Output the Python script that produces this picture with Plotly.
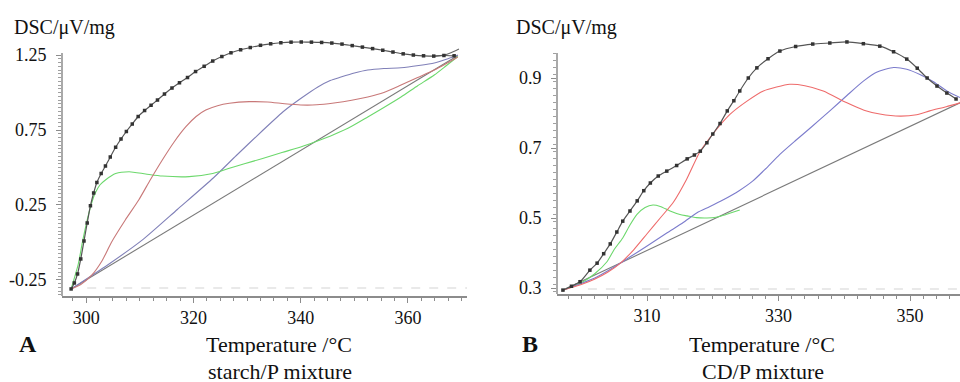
import plotly.graph_objects as go

# ---------------- Panel A: starch/P mixture ----------------
a_data_T = [297.2, 297.8, 298.4, 299.0, 299.6, 300.2, 300.8, 301.4, 302.0, 302.8, 303.6, 304.5,
            305.5, 306.5, 307.5, 308.6, 309.7, 310.9, 312.1, 313.3, 314.6, 316.0, 317.4, 318.9,
            320.4, 322.0, 323.6, 325.3, 327.0, 328.8, 330.6, 332.5, 334.4, 336.3, 338.2, 340.1,
            342.0, 343.9, 345.8, 347.7, 349.6, 351.5, 353.4, 355.3, 357.2, 359.1, 361.0, 362.9,
            364.8, 366.7, 368.6]
a_data_y = [-0.31, -0.27, -0.21, -0.11, 0.01, 0.13, 0.245, 0.33, 0.40, 0.46, 0.51, 0.57,
            0.635, 0.69, 0.74, 0.79, 0.84, 0.88, 0.915, 0.95, 0.99, 1.03, 1.065, 1.10,
            1.14, 1.175, 1.21, 1.24, 1.265, 1.285, 1.30, 1.315, 1.325, 1.332, 1.336, 1.337,
            1.336, 1.334, 1.33, 1.323, 1.313, 1.303, 1.293, 1.282, 1.27, 1.258, 1.25, 1.245,
            1.243, 1.247, 1.245]

a_fit_T = [364.8, 366.7, 368.0, 369.5]
a_fit_y = [1.243, 1.25, 1.265, 1.29]

a_red_T = [297.2, 299.0, 301.0, 303.0, 304.7, 307.3, 309.8, 312.0, 314.2, 316.4, 318.6, 320.5,
           322.3, 324.5, 326.7, 330.4, 333.8, 337.0, 340.0, 343.0, 346.2, 349.5, 352.5, 355.5,
           358.7, 361.8, 364.9, 367.0, 369.3]
a_red_y = [-0.31, -0.28, -0.22, -0.12, 0.0, 0.15, 0.283, 0.42, 0.55, 0.67, 0.772, 0.84,
           0.883, 0.912, 0.928, 0.939, 0.937, 0.925, 0.917, 0.918, 0.93, 0.948, 0.97, 1.0,
           1.05, 1.10, 1.15, 1.19, 1.237]

a_green_T = [297.2, 298.5, 299.3, 300.2, 301.0, 301.7, 302.6, 303.6, 305.5, 308.0, 311.1, 314.2,
             319.2, 323.6, 326.7, 329.5, 332.9, 336.5, 340.0, 343.0, 346.2, 349.5, 352.5, 355.5,
             358.7, 361.8, 364.9, 367.0, 369.3]
a_green_y = [-0.31, -0.15, 0.0, 0.15, 0.26, 0.33, 0.385, 0.417, 0.46, 0.472, 0.457, 0.443,
             0.439, 0.46, 0.495, 0.525, 0.56, 0.60, 0.637, 0.675, 0.72, 0.775, 0.837, 0.90,
             0.97, 1.045, 1.117, 1.175, 1.24]

a_blue_T = [297.2, 304.0, 310.5, 317.0, 323.7, 328.0, 333.0, 337.0, 340.0, 343.2, 345.5, 347.5,
            350.0, 352.5, 355.5, 358.7, 362.0, 364.9, 367.0, 369.3]
a_blue_y = [-0.31, -0.15, 0.017, 0.22, 0.43, 0.58, 0.75, 0.88, 0.96, 1.037, 1.08, 1.103,
            1.13, 1.15, 1.16, 1.165, 1.18, 1.197, 1.22, 1.25]

a_base_T = [297.2, 369.3]
a_base_y = [-0.31, 1.247]

a_resid_T = [300.2, 371.0]
a_resid_y = [-0.303, -0.303]

# ---------------- Panel B: CD/P mixture ----------------
b_data_T = [297.2, 298.5, 299.8, 301.3, 302.4, 303.4, 304.4, 305.4, 306.3, 307.4, 308.5, 309.5,
            310.5, 311.7, 313.0, 314.5, 316.1, 317.2, 318.1, 319.1, 320.0, 321.1, 322.2, 323.2,
            324.1, 325.4, 326.7, 328.4, 330.2, 332.6, 335.2, 337.8, 340.4, 342.9, 345.4, 347.5,
            349.5, 351.1, 352.6, 354.1, 355.6, 357.0]
b_data_y = [0.294, 0.305, 0.318, 0.351, 0.371, 0.398, 0.426, 0.46, 0.491, 0.52, 0.549, 0.578,
            0.60, 0.62, 0.634, 0.65, 0.669, 0.68, 0.691, 0.715, 0.74, 0.77, 0.806, 0.835,
            0.863, 0.90, 0.929, 0.955, 0.977, 0.99, 0.997, 1.0, 1.003, 0.998, 0.991, 0.975,
            0.954, 0.928, 0.90, 0.877, 0.857, 0.84]

b_red_T = [297.2, 300.0, 302.0, 304.0, 306.0, 308.0, 310.0, 312.0, 314.0, 316.0, 318.0, 320.0,
           322.6, 325.2, 327.7, 331.7, 334.0, 336.8, 340.4, 343.0, 345.4, 348.5, 351.0, 353.0,
           355.5, 357.6]
b_red_y = [0.294, 0.31, 0.325, 0.345, 0.372, 0.41, 0.455, 0.50, 0.545, 0.61, 0.688, 0.74,
           0.796, 0.834, 0.863, 0.882, 0.878, 0.863, 0.829, 0.808, 0.797, 0.791, 0.795, 0.806,
           0.818, 0.829]

b_blue_T = [297.2, 300.0, 302.5, 305.0, 307.5, 310.0, 313.0, 315.5, 317.6, 319.5, 321.6, 324.0,
            326.1, 328.0, 330.2, 332.5, 335.0, 337.8, 340.4, 342.9, 345.0, 347.5, 349.5, 351.5,
            353.5, 355.6, 357.6]
b_blue_y = [0.294, 0.313, 0.333, 0.36, 0.39, 0.42, 0.457, 0.487, 0.515, 0.532, 0.552, 0.578,
            0.606, 0.64, 0.682, 0.72, 0.76, 0.806, 0.85, 0.891, 0.917, 0.93, 0.925, 0.91,
            0.89, 0.863, 0.844]

b_green_T = [297.2, 300.0, 302.0, 303.9, 305.0, 306.3, 307.4, 308.5, 309.7, 310.9, 312.0, 313.5,
             315.0, 316.1, 317.5, 319.1, 320.5, 321.5, 322.8, 324.1]
b_green_y = [0.294, 0.315, 0.34, 0.375, 0.41, 0.443, 0.48, 0.511, 0.53, 0.537, 0.533, 0.52,
             0.51, 0.506, 0.501, 0.50, 0.502, 0.507, 0.515, 0.523]

b_base_T = [297.2, 357.6]
b_base_y = [0.294, 0.829]

b_resid_T = [301.0, 357.6]
b_resid_y = [0.297, 0.297]

# ---------------- tick labels ----------------
a_xticks = [300, 320, 340, 360]
a_yticks = [-0.25, 0.25, 0.75, 1.25]
a_yticktext = ["-0.25", "0.25", "0.75", "1.25"]
b_xticks = [310, 330, 350]
b_yticks = [0.3, 0.5, 0.7, 0.9]
b_yticktext = ["0.3", "0.5", "0.7", "0.9"]

FONT = "Liberation Serif"
GREEN = "#6cd86c"
GRAY = "#7a7a7a"
AXC = "#8c8c8c"

# axis extents (visible axis lines)
A_XR = [295.5, 371.0]
A_YAXIS = [-0.357, 1.263]
A_YR = [-0.357, 1.377]
B_XR = [296.3, 357.6]
B_YAXIS = [0.2829, 0.9714]
B_YR = [0.2829, 1.0200]

fig = go.Figure()


def add_line(x, y, color, xa, ya, width=1.1, dash=None, shape="spline"):
    fig.add_trace(go.Scatter(x=x, y=y, mode="lines", xaxis=xa, yaxis=ya,
                             line=dict(color=color, width=width, dash=dash, shape=shape,
                                       smoothing=0.6),
                             hoverinfo="skip", showlegend=False))


# Panel A
add_line(a_resid_T, a_resid_y, "#e2e2e2", "x", "y", width=1.5, dash="dash", shape="linear")
add_line(a_base_T, a_base_y, GRAY, "x", "y", shape="linear")
add_line(a_blue_T, a_blue_y, "#8080b8", "x", "y")
add_line(a_green_T, a_green_y, GREEN, "x", "y")
add_line(a_red_T, a_red_y, "#c87878", "x", "y")
add_line(a_fit_T, a_fit_y, "#666666", "x", "y")
fig.add_trace(go.Scatter(x=a_data_T, y=a_data_y, mode="lines+markers", xaxis="x", yaxis="y",
                         line=dict(color="#555555", width=1.2, shape="spline", smoothing=0.6),
                         marker=dict(color="#333333", size=3.5, symbol="square"),
                         hoverinfo="skip", showlegend=False))

# Panel B
add_line(b_resid_T, b_resid_y, "#e2e2e2", "x2", "y2", width=1.5, dash="dash", shape="linear")
add_line(b_base_T, b_base_y, GRAY, "x2", "y2", shape="linear")
add_line(b_green_T, b_green_y, GREEN, "x2", "y2")
add_line(b_blue_T, b_blue_y, "#7c7ccc", "x2", "y2")
add_line(b_red_T, b_red_y, "#ee6b6b", "x2", "y2")
fig.add_trace(go.Scatter(x=b_data_T, y=b_data_y, mode="lines+markers", xaxis="x2", yaxis="y2",
                         line=dict(color="#555555", width=1.2, shape="spline", smoothing=0.6),
                         marker=dict(color="#333333", size=3.5, symbol="square"),
                         hoverinfo="skip", showlegend=False))

W, H = 960, 382


def dom_x(a, b):
    return [a / W, b / W]


def dom_y(top, bottom):
    return [1 - bottom / H, 1 - top / H]


def steps(start, stop, step):
    out, i = [], 0
    while True:
        v = round(start + i * step, 4)
        if v > stop + 1e-9:
            break
        out.append(v)
        i += 1
    return out


a_yminor = steps(-0.35, 1.25, 0.025)
b_yminor = steps(0.29, 0.97, 0.02)

axis_common = dict(showgrid=False, zeroline=False, automargin=False, ticks="outside",
                   tickcolor=AXC, ticklen=5, tickwidth=1,
                   tickfont=dict(family=FONT, size=18, color="#111111"))

fig.update_layout(
    width=W, height=H, margin=dict(l=0, r=0, t=0, b=0, pad=0),
    paper_bgcolor="white", plot_bgcolor="white", showlegend=False,
    xaxis=dict(domain=dom_x(62, 467), range=A_XR, anchor="y",
               showline=True, linecolor=AXC, linewidth=1.5,
               tickmode="array", tickvals=a_xticks,
               minor=dict(dtick=2.5, tick0=300, ticks="outside", ticklen=3, tickcolor=AXC),
               ticklabelstandoff=0, **axis_common),
    yaxis=dict(domain=dom_y(36, 296), range=A_YR, anchor="x", showline=False,
               tickmode="array", tickvals=a_yticks, ticktext=a_yticktext,
               minor=dict(tickmode="array", tickvals=a_yminor, ticks="outside", ticklen=3,
                          tickcolor="#a0a0a0"),
               ticklabelstandoff=6, **axis_common),
    xaxis2=dict(domain=dom_x(557, 960), range=B_XR, anchor="y2",
                showline=True, linecolor=AXC, linewidth=1.5,
                tickmode="array", tickvals=b_xticks,
                minor=dict(dtick=2, tick0=300, ticks="outside", ticklen=3, tickcolor=AXC),
                ticklabelstandoff=0, **axis_common),
    yaxis2=dict(domain=dom_y(36, 294), range=B_YR, anchor="x2", showline=False,
                tickmode="array", tickvals=b_yticks, ticktext=b_yticktext,
                minor=dict(tickmode="array", tickvals=b_yminor, ticks="outside", ticklen=3,
                           tickcolor="#a0a0a0"),
                ticklabelstandoff=6, **axis_common),
)

# vertical axis lines limited to the original axis extent
fig.add_shape(type="line", xref="paper", yref="y", x0=62 / W, x1=62 / W,
              y0=A_YAXIS[0], y1=A_YAXIS[1], line=dict(color=AXC, width=1.5))
fig.add_shape(type="line", xref="paper", yref="y2", x0=557 / W, x1=557 / W,
              y0=B_YAXIS[0], y1=B_YAXIS[1], line=dict(color=AXC, width=1.5))


def note(text, x, y, size, bold=False, xanchor="center", height=None):
    fig.add_annotation(text=f"<b>{text}</b>" if bold else text, x=x / W, y=1 - y / H,
                       xref="paper", yref="paper", xanchor=xanchor, yanchor="middle",
                       showarrow=False, height=height, borderpad=0,
                       font=dict(family=FONT, size=size, color="#111111"))


note("DSC/μV/mg", 13, 28, 20, xanchor="left")
note("DSC/μV/mg", 515, 28, 20, xanchor="left")
note("A", 18, 344, 24, bold=True, xanchor="left")
note("B", 521, 344, 24, bold=True, xanchor="left")
note("Temperature /°C", 279, 344, 22, height=22)
note("starch/P mixture", 280, 371, 22, height=22)
note("Temperature /°C", 762, 344, 22, height=22)
note("CD/P mixture", 763, 371, 22, height=22)

fig.write_html("out.html", config={"displayModeBar": False},
               post_script="document.body.style.margin='0';document.body.style.padding='0';")
